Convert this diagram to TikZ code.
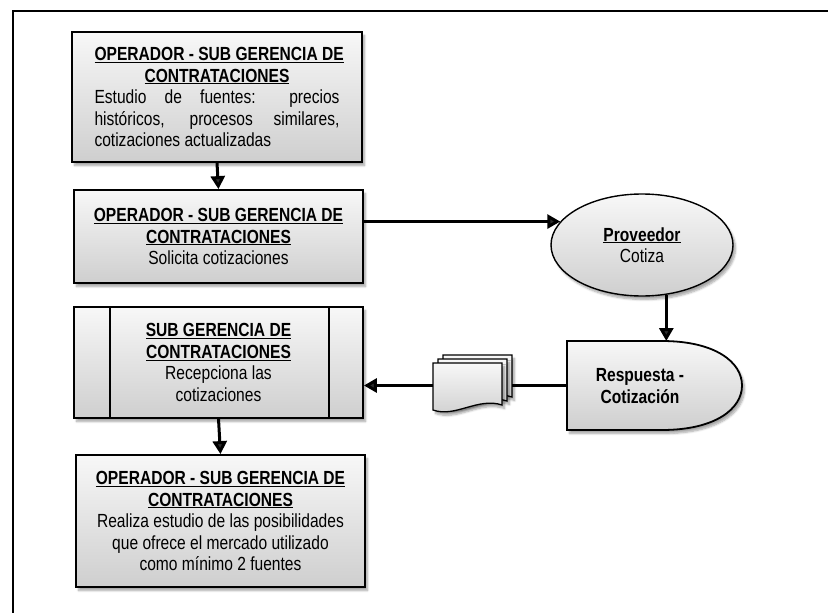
\documentclass[tikz,border=0pt]{standalone}
\usepackage{fontspec}
\setmainfont{Liberation Sans}[FakeStretch=0.82]
\usetikzlibrary{shapes.geometric,arrows.meta,shadows.blur,calc}
\newcommand{\dfont}{\fontsize{19}{21.5}\selectfont\hyphenpenalty=10000 }
\tikzset{
  fillgrad/.style={top color=gray!6, bottom color=gray!38},
  shad/.style={blur shadow={shadow xshift=2.5pt, shadow yshift=-3.5pt, shadow blur steps=6, shadow opacity=35}},
  box/.style={draw, line width=1.8pt, fillgrad, shad, inner sep=0pt, align=center, font=\dfont},
  arr/.style={line width=3pt, -{Triangle[length=13pt,width=14pt]}},
  docshape/.style={draw, line width=1.3pt, fillgrad, shad},
  doc/.pic={\path[docshape] (0,0) -- (69,0) -- (69,42) .. controls (45,34) and (22,55) .. (0,47) -- cycle;}
}
\begin{document}
\begin{tikzpicture}[x=1pt,y=-1pt]
\useasboundingbox (0,0) rectangle (828,613);
\draw[line width=2pt] (13,11) rectangle (900,700);

% boxes
\node[box, minimum width=290pt, minimum height=130pt, text width=245pt, align=justify] (b1) at (217,97)
 {{\centering\bfseries\underline{OPERADOR - SUB GERENCIA DE}\par\underline{CONTRATACIONES}\par}Estudio de fuentes: precios históricos, procesos similares, cotizaciones actualizadas};
\node[box, minimum width=289pt, minimum height=93pt] (b2) at (218.5,236.5)
 {\bfseries\underline{OPERADOR - SUB GERENCIA DE}\\\bfseries\underline{CONTRATACIONES}\\Solicita cotizaciones};
\node[box, minimum width=289pt, minimum height=111pt] (b3) at (218.5,362.5)
 {\bfseries\underline{SUB GERENCIA DE}\\\bfseries\underline{CONTRATACIONES}\\Recepciona las\\cotizaciones};
\draw[line width=1.8pt] ([xshift=37pt]b3.north west) -- ([xshift=37pt]b3.south west);
\draw[line width=1.8pt] ([xshift=-35pt]b3.north east) -- ([xshift=-35pt]b3.south east);
\node[box, minimum width=289pt, minimum height=132pt] (b4) at (220.5,521)
 {\bfseries\underline{OPERADOR - SUB GERENCIA DE}\\\bfseries\underline{CONTRATACIONES}\\Realiza estudio de las posibilidades\\que ofrece el mercado utilizado\\como mínimo 2 fuentes};

% ellipse
\node[box, ellipse, minimum width=182pt, minimum height=102pt, line width=1.4pt] (prov) at (642,245)
 {\bfseries\underline{Proveedor}\\Cotiza};

% delay shape
\coordinate (respTop) at (665,341);
\coordinate (respW) at (567,385.5);
\path[draw, line width=1.8pt, fillgrad, shad] (567,341) -- (662,341)
  .. controls (715,341) and (742,362) .. (742,385.5)
  .. controls (742,409) and (715,430) .. (662,430) -- (567,430) -- cycle;
\node[font=\dfont\bfseries, align=center] (resp) at (640,386) {Respuesta -\\Cotización};

% connectors
\draw[arr] (b1.south) -- (b2.north);
\draw[arr] (b2.east |- prov.164) -- (prov.164);
\draw[arr] (prov.-64) -- (prov.-64 |- respTop);
\draw[arr] (respW) -- (b3.east |- respW);
\draw[arr] (b3.south) -- (b4.north);

% multi-document
\pic at (443,355) {doc};
\pic at (438,359) {doc};
\pic at (433,363) {doc};
\end{tikzpicture}
\end{document}
